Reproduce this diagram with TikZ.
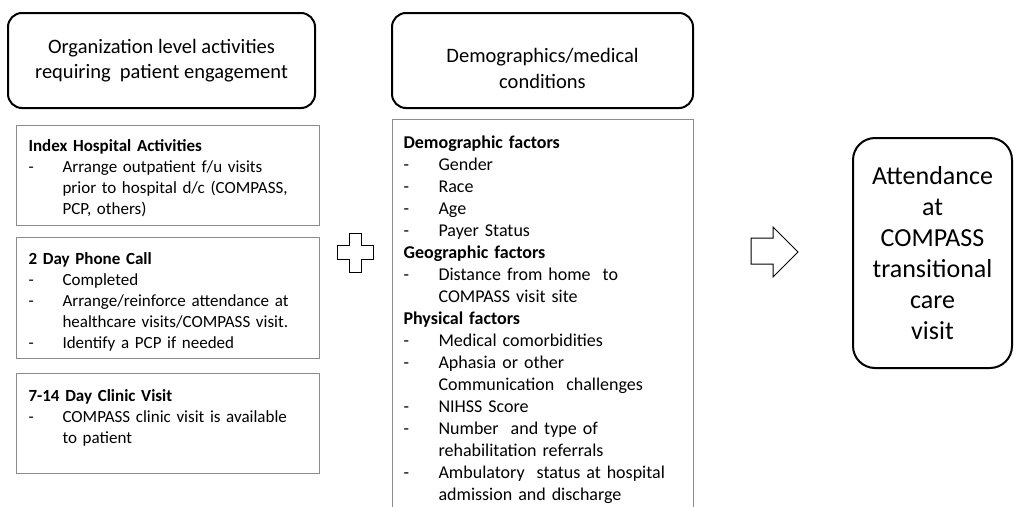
\documentclass[tikz,border=0pt]{standalone}
\usepackage{fontspec}
\setmainfont{Carlito}
\definecolor{boxgray}{RGB}{140,140,140}
\newcommand\dl{\makebox[34pt][l]{-}}
\newcommand\ind{\hspace*{34pt}}
\newcommand\dk{\makebox[35pt][l]{-}}
\newcommand\indk{\hspace*{35pt}}
\tikzset{
  titlebox/.style={draw, line width=2pt, rounded corners=14pt, align=center, inner sep=0pt,
    minimum height=95pt, font=\fontsize{20.5}{25.5}\selectfont},
  listbox/.style={draw=boxgray, line width=1.1pt, anchor=north west, inner xsep=12pt, inner ysep=0pt,
    align=left, text width=279pt, font=\fontsize{17}{21}\selectfont},
  factbox/.style={draw=boxgray, line width=1.1pt, anchor=north west, inner xsep=11pt, inner ysep=0pt,
    align=left, text width=279pt, font=\fontsize{18}{22}\selectfont},
  resultbox/.style={draw, line width=2pt, rounded corners=22pt, align=center, inner sep=0pt,
    minimum width=159pt, minimum height=230pt, font=\fontsize{26}{31}\selectfont},
  outline/.style={draw, line width=1pt, line join=miter}
}
\begin{document}
\begin{tikzpicture}[x=1pt,y=-1pt]
\useasboundingbox (0,0) rectangle (1014,506);
\clip (0,0) rectangle (1014,506);

\node[titlebox, minimum width=307pt] (org) at (161.5,60.5)
  {Organization level activities\\requiring~ patient engagement};
\node[titlebox, minimum width=301pt] (demo) at (542.5,60.5)
  {\rule{0pt}{30pt}Demographics/medical\\conditions};

\node[listbox, text height=26pt, text depth=74pt] (idx) at (16,125) {\textbf{Index Hospital Activities}\\
  \dl Arrange outpatient f/u visits\\
  \ind prior to hospital d/c (COMPASS,\\
  \ind PCP, others)};

\node[listbox, text height=27pt, text depth=94pt] (call) at (16,237) {\textbf{2 Day Phone Call}\\
  \dl Completed\\
  \dl Arrange/reinforce attendance at\\
  \ind healthcare visits/COMPASS visit.\\
  \dl Identify a PCP if needed};

\node[listbox, text height=28pt, text depth=72pt] (clinic) at (16,373) {\textbf{7-14 Day Clinic Visit}\\
  \dl COMPASS clinic visit is available\\
  \ind to patient};

\node[factbox, text height=29pt, text depth=372pt] (facts) at (392,119) {\textbf{Demographic factors}\\
  \dk Gender\\
  \dk Race\\
  \dk Age\\
  \dk Payer Status\\
  \textbf{Geographic factors}\\
  \dk Distance from home~ to\\
  \indk COMPASS visit site\\
  \textbf{Physical factors}\\
  \dk Medical comorbidities\\
  \dk Aphasia or other\\
  \indk Communication~ challenges\\
  \dk NIHSS Score\\
  \dk Number~ and type of\\
  \indk rehabilitation referrals\\
  \dk Ambulatory~ status at hospital\\
  \indk admission and discharge};

\node[resultbox] (attend) at (932.5,253)
  {Attendance\\at\\COMPASS\\transitional\\care\\visit};

% plus sign between the two groups
\path[outline] (349,233) -- (361,233) -- (361,245) -- (373,245) -- (373,259) -- (361,259)
  -- (361,272) -- (349,272) -- (349,259) -- (337,259) -- (337,245) -- (349,245) -- cycle;

% block arrow toward the outcome
\path[outline] (751,238) -- (773,238) -- (773,227) -- (798,252) -- (773,277) -- (773,264)
  -- (751,264) -- cycle;
\end{tikzpicture}
\end{document}
